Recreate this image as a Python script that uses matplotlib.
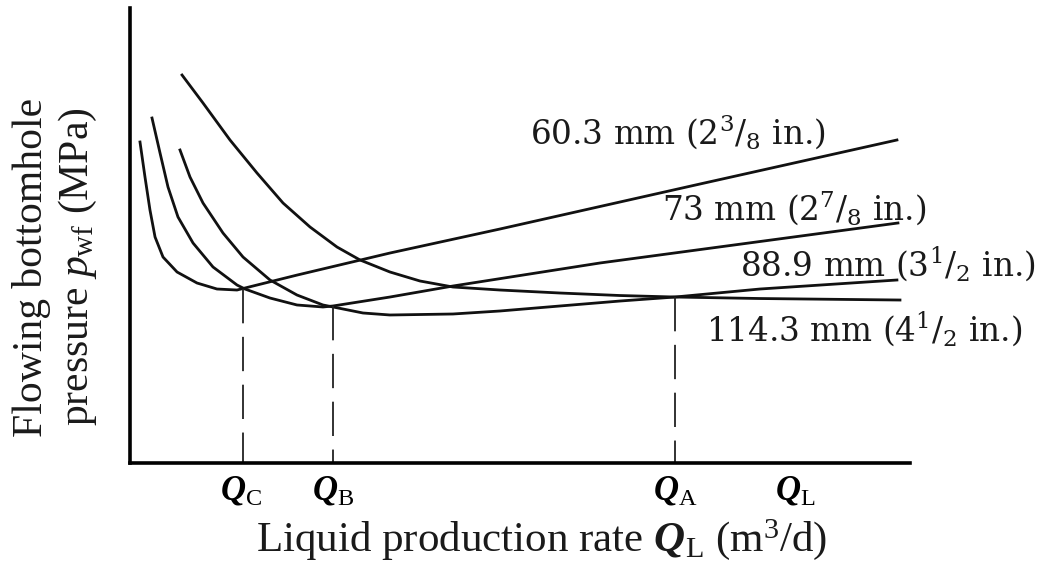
import matplotlib.pyplot as plt

plt.rcParams['font.family'] = 'Liberation Serif'
plt.rcParams['mathtext.fontset'] = 'custom'
plt.rcParams['mathtext.rm'] = 'Liberation Serif'
plt.rcParams['mathtext.it'] = 'Liberation Serif:italic'
plt.rcParams['mathtext.bf'] = 'Liberation Serif:bold:italic'

# tubing performance curves, rate and pressure in relative units (0-100)
rate_603 = [1.28, 1.92, 2.56, 3.21, 4.23, 6.03, 8.59, 11.15, 13.72, 14.74, 21.41, 33.33, 47.44, 73.08, 98.33]
pwf_603 = [70.55, 62.86, 55.60, 49.67, 45.27, 41.98, 39.56, 38.24, 38.02, 38.46, 41.30, 46.15, 51.43, 61.32, 70.99]

rate_73 = [2.82, 3.85, 4.87, 6.15, 8.08, 10.64, 13.72, 14.74, 17.95, 21.41, 24.74, 26.03, 33.33, 41.41, 60.26, 98.46]
pwf_73 = [75.82, 68.13, 60.66, 54.07, 48.35, 43.08, 39.12, 38.24, 36.26, 34.73, 34.29, 34.51, 36.48, 38.90, 43.96, 52.75]

rate_889 = [6.41, 7.69, 9.36, 11.92, 14.49, 17.95, 21.41, 24.74, 26.03, 29.87, 33.33, 41.41, 47.44,
            55.13, 62.82, 69.87, 80.77, 98.33]
pwf_889 = [68.79, 62.86, 57.14, 50.55, 45.27, 40.22, 36.92, 34.73, 34.29, 32.97, 32.53, 32.75, 33.41,
           34.51, 35.60, 36.48, 38.24, 40.22]

rate_1143 = [6.67, 9.36, 12.82, 16.28, 19.62, 23.08, 26.54, 29.49, 33.33, 37.18, 41.41, 47.44,
             55.13, 62.82, 69.87, 80.77, 98.72]
pwf_1143 = [85.27, 79.12, 70.99, 63.74, 57.14, 51.87, 47.47, 44.62, 41.98, 40.00, 38.68, 38.02,
            37.36, 36.81, 36.48, 36.15, 35.82]

tubing_labels = ['60.3 mm (2$^{3}$/$_{8}$ in.)',
                 '73 mm (2$^{7}$/$_{8}$ in.)',
                 '88.9 mm (3$^{1}$/$_{2}$ in.)',
                 '114.3 mm (4$^{1}$/$_{2}$ in.)']
label_x = [51.3, 68.2, 78.2, 73.8]
label_y = [70.3, 53.6, 41.1, 27.0]

# rates where two neighbouring tubing sizes give the same pressure
cross_rate = [14.5, 26.0, 69.9]
cross_pwf = [38.3, 34.4, 36.5]

tick_rate = [14.2, 26.0, 69.9, 85.3]
tick_names = [r'$\mathbf{Q}_{\rm C}$', r'$\mathbf{Q}_{\rm B}$',
              r'$\mathbf{Q}_{\rm A}$', r'$\mathbf{Q}_{\rm L}$']

fig = plt.figure(figsize=(10.51, 5.63), dpi=100)
ax = fig.add_axes([0.1237, 0.1776, 0.7421, 0.8082])

curves = [(rate_603, pwf_603), (rate_73, pwf_73), (rate_889, pwf_889), (rate_1143, pwf_1143)]
for rate, pwf in curves:
    ax.plot(rate, pwf, color='#111111', lw=2.0, solid_joinstyle='round')

for x, y in zip(cross_rate, cross_pwf):
    ax.plot([x, x], [y, 0], color='#222222', lw=1.3, linestyle=(0, (19, 7.5)))

for txt, x, y in zip(tubing_labels, label_x, label_y):
    ax.text(x, y, txt, fontsize=23.5, family='DejaVu Serif', math_fontfamily='dejavuserif',
            ha='left', va='baseline', color='#1a1a1a', clip_on=False)

ax.set_xlim(0, 100)
ax.set_ylim(0, 100)
ax.spines['top'].set_visible(False)
ax.spines['right'].set_visible(False)
ax.spines['left'].set_linewidth(2.6)
ax.spines['bottom'].set_linewidth(2.6)
ax.set_yticks([])
ax.set_xticks(tick_rate)
ax.set_xticklabels(tick_names, fontsize=25)
ax.tick_params(axis='x', length=0, pad=8)

fig.text(542 / 1051, 1 - 551 / 563, r'Liquid production rate $\mathbf{Q}_{\rm L}$ (m$^3$/d)',
         fontsize=31, ha='center', va='baseline', color='#1a1a1a')
fig.text(32 / 1051, 1 - 267 / 563, 'Flowing bottomhole', fontsize=30, rotation=90,
         ha='center', va='center', color='#1a1a1a')
fig.text(78 / 1051, 1 - 267 / 563, 'pressure $p_{\\rm wf}$ (MPa)', fontsize=30, rotation=90,
         ha='center', va='center', color='#1a1a1a')

fig.savefig('out.png', dpi=100)
